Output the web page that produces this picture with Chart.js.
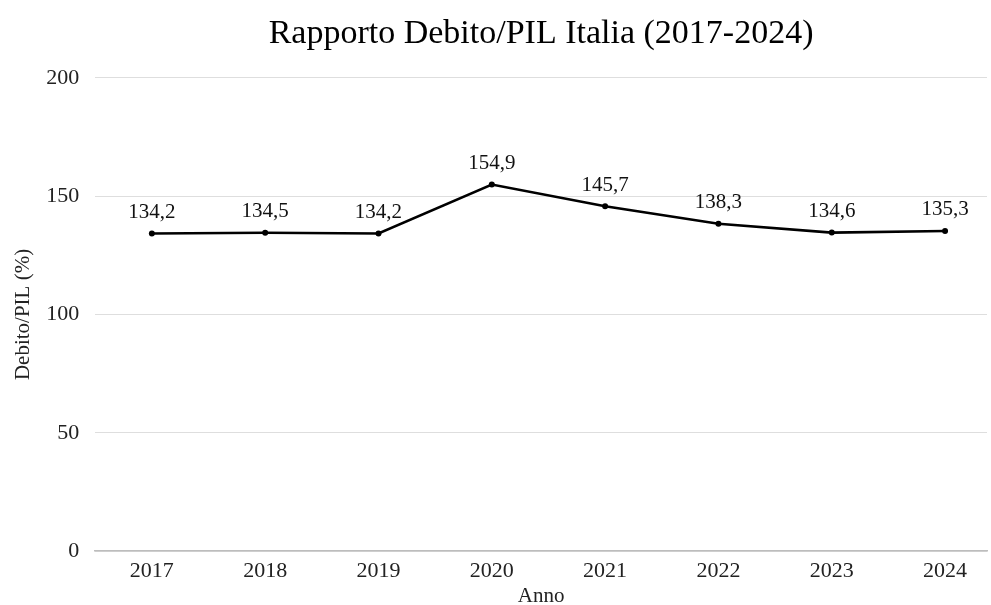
<!DOCTYPE html>
<html>
<head>
<meta charset="utf-8">
<title>Rapporto Debito/PIL Italia</title>
<script src="https://cdn.jsdelivr.net/npm/chart.js@4/dist/chart.umd.min.js"></script>
<style>
    html, body { margin: 0; padding: 0; background: #fff; }
    canvas { display: block; }
</style>
</head>
<body>
<canvas id="debtChart" width="991" height="605"></canvas>
<script>
// Data
const years = [2017, 2018, 2019, 2020, 2021, 2022, 2023, 2024];
const debtRatio = [134.2, 134.5, 134.2, 154.9, 145.7, 138.3, 134.6, 135.3];
const yTicks = [0, 50, 100, 150, 200];

const serif = '"Liberation Serif", "DejaVu Serif", serif';

// Small plugin that writes the value above each point (comma decimals)
const pointLabels = {
    id: 'pointLabels',
    afterDatasetsDraw(chart) {
        const ctx = chart.ctx;
        const meta = chart.getDatasetMeta(0);
        ctx.save();
        ctx.font = '21px ' + serif;
        ctx.fillStyle = '#111';
        ctx.textAlign = 'center';
        ctx.textBaseline = 'middle';
        meta.data.forEach((pt, i) => {
            const txt = debtRatio[i].toFixed(1).replace('.', ',');
            ctx.fillText(txt, pt.x, pt.y - 21);
        });
        ctx.restore();
    }
};

const ctx = document.getElementById('debtChart').getContext('2d');
new Chart(ctx, {
    type: 'line',
    data: {
        datasets: [{
            label: 'Debito/PIL (%)',
            data: years.map((y, i) => ({ x: y, y: debtRatio[i] })),
            borderColor: '#000',
            backgroundColor: '#000',
            borderWidth: 2.6,
            pointRadius: 3,
            pointBackgroundColor: '#000',
            pointBorderWidth: 0,
            tension: 0
        }]
    },
    options: {
        responsive: false,
        animation: false,
        layout: { padding: 0 },
        plugins: {
            legend: { display: false },
            tooltip: { enabled: false },
            title: {
                display: true,
                fullSize: false,
                text: 'Rapporto Debito/PIL Italia (2017-2024)',
                color: '#000',
                font: { family: serif, size: 34, weight: 'normal' },
                padding: { top: 14, bottom: 23 }
            }
        },
        scales: {
            x: {
                type: 'linear',
                min: 2016.5,
                max: 2024.37,
                afterBuildTicks: (axis) => {
                    axis.ticks = years.map(v => ({ value: v }));
                },
                ticks: {
                    color: '#222',
                    padding: 0,
                    font: { family: serif, size: 22, lineHeight: 1 },
                    callback: (v) => String(v)
                },
                // tick marks only used as spacing, kept invisible
                grid: {
                    display: true,
                    drawOnChartArea: false,
                    drawTicks: true,
                    tickLength: 9,
                    tickColor: 'rgba(0,0,0,0)'
                },
                border: { display: true, color: '#bdbdbd', width: 1.5 },
                title: {
                    display: true,
                    text: 'Anno',
                    color: '#222',
                    font: { family: serif, size: 21, lineHeight: 0.85 },
                    padding: { top: 5, bottom: 0 }
                }
            },
            y: {
                min: 0,
                max: 200,
                afterBuildTicks: (axis) => {
                    axis.ticks = yTicks.map(v => ({ value: v }));
                },
                ticks: {
                    color: '#222',
                    padding: 0,
                    font: { family: serif, size: 22 }
                },
                grid: {
                    color: '#dedede',
                    lineWidth: 1,
                    drawTicks: true,
                    tickLength: 16,
                    tickColor: 'rgba(0,0,0,0)'
                },
                border: { display: false },
                title: {
                    display: true,
                    text: 'Debito/PIL (%)',
                    color: '#222',
                    font: { family: serif, size: 21 },
                    padding: { top: 11, bottom: 10 }
                }
            }
        }
    },
    plugins: [pointLabels]
});
</script>
</body>
</html>
